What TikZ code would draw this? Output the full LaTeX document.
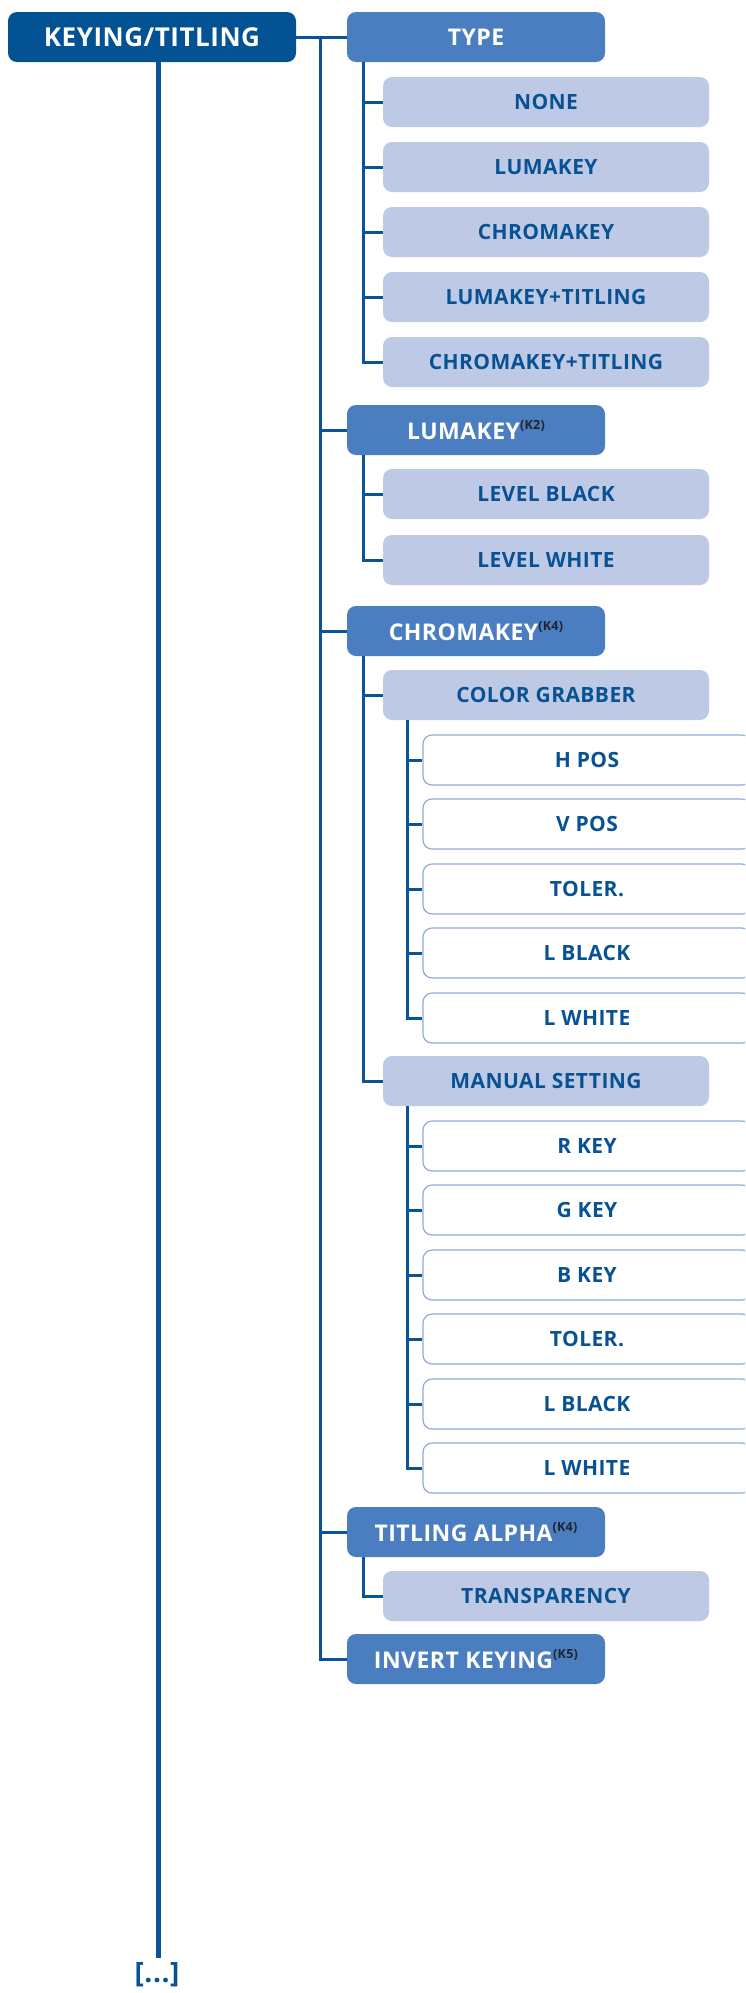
\documentclass[tikz,border=0pt]{standalone}
\usepackage{fontspec}
\setmainfont[LetterSpace=2]{Open Sans}
\usepackage{xcolor}
\usetikzlibrary{positioning}

\definecolor{rootblue}{RGB}{3,82,148}
\definecolor{menublue}{RGB}{74,126,193}
\definecolor{itemfill}{RGB}{190,201,230}
\definecolor{valueedge}{RGB}{143,170,220}
\definecolor{textblue}{RGB}{8,82,148}
\definecolor{linkblue}{RGB}{10,84,150}
\definecolor{refgray}{RGB}{35,35,45}

\newcommand{\kref}[1]{\raisebox{0.8ex}{\fontsize{6.3pt}{7pt}\selectfont\color{refgray}(#1)}}

\begin{document}
\begin{tikzpicture}[x=0.5pt, y=-0.5pt,
    every node/.style={rounded corners=4.5pt, inner sep=0pt, minimum height=25pt},
    rootbox/.style={fill=rootblue, text=white, minimum width=144pt, font=\fontsize{13}{15}\selectfont\bfseries},
    menubox/.style={fill=menublue, text=white, minimum width=129pt, font=\fontsize{11.5}{13}\selectfont\bfseries},
    itembox/.style={fill=itemfill, text=textblue, minimum width=163pt, font=\fontsize{10.5}{12}\selectfont\bfseries},
    valuebox/.style={fill=white, draw=valueedge, line width=0.6pt, text=textblue, minimum width=164pt, font=\fontsize{10.5}{12}\selectfont\bfseries},
    dots/.style={minimum height=0pt, text=textblue, font=\fontsize{14}{16}\selectfont\bfseries},
    link/.style={draw=linkblue, line width=1.5pt},
    trunk/.style={draw=linkblue, line width=2.5pt},
  ]
  \useasboundingbox (0,0) rectangle (745,1993);
  \clip (0,0) rectangle (745,1993);

  \node[rootbox] (root) at (152,37) {KEYING/TITLING};

  \node[menubox] (type)      at (476,37)   {TYPE};
  \node[itembox] (none)      at (546,102)  {NONE};
  \node[itembox] (luma)      at (546,167)  {LUMAKEY};
  \node[itembox] (chroma)    at (546,232)  {CHROMAKEY};
  \node[itembox] (lumatit)   at (546,297)  {LUMAKEY+TITLING};
  \node[itembox] (chromatit) at (546,362)  {CHROMAKEY+TITLING};

  \node[menubox] (lumakey)   at (476,430)  {LUMAKEY\kref{K2}};
  \node[itembox] (lvlblack)  at (546,494)  {LEVEL BLACK};
  \node[itembox] (lvlwhite)  at (546,560)  {LEVEL WHITE};

  \node[menubox]  (chromakey) at (476,631)  {CHROMAKEY\kref{K4}};
  \node[itembox]  (grabber)   at (546,695)  {COLOR GRABBER};
  \node[valuebox] (hpos)      at (587,760)  {H POS};
  \node[valuebox] (vpos)      at (587,824)  {V POS};
  \node[valuebox] (gtoler)    at (587,889)  {TOLER.};
  \node[valuebox] (gblack)    at (587,953)  {L BLACK};
  \node[valuebox] (gwhite)    at (587,1018) {L WHITE};
  \node[itembox]  (manual)    at (546,1081) {MANUAL SETTING};
  \node[valuebox] (rkey)      at (587,1146) {R KEY};
  \node[valuebox] (gkey)      at (587,1210) {G KEY};
  \node[valuebox] (bkey)      at (587,1275) {B KEY};
  \node[valuebox] (mtoler)    at (587,1339) {TOLER.};
  \node[valuebox] (mblack)    at (587,1404) {L BLACK};
  \node[valuebox] (mwhite)    at (587,1468) {L WHITE};

  \node[menubox] (alpha)     at (476,1532) {TITLING ALPHA\kref{K4}};
  \node[itembox] (transp)    at (546,1596) {TRANSPARENCY};
  \node[menubox] (invert)    at (476,1659) {INVERT KEYING\kref{K5}};

  \coordinate (fork) at (320,37);
  \coordinate (more) at (158,1958);
  \node[dots, anchor=north] (dots) at (157,1962) {[...]};

  \draw[trunk] (root.south -| more) -- (more);
  \draw[link] (root.east) -- (type.west);
  \foreach \n in {type,lumakey,chromakey,alpha,invert}
    \draw[link] (fork) |- (\n.west);
  \foreach \n in {none,luma,chroma,lumatit,chromatit}
    \draw[link] ([xshift=8.5pt]type.south west) |- (\n.west);
  \foreach \n in {lvlblack,lvlwhite}
    \draw[link] ([xshift=8.5pt]lumakey.south west) |- (\n.west);
  \foreach \n in {grabber,manual}
    \draw[link] ([xshift=8.5pt]chromakey.south west) |- (\n.west);
  \foreach \n in {hpos,vpos,gtoler,gblack,gwhite}
    \draw[link] ([xshift=12.5pt]grabber.south west) |- (\n.west);
  \foreach \n in {rkey,gkey,bkey,mtoler,mblack,mwhite}
    \draw[link] ([xshift=12.5pt]manual.south west) |- (\n.west);
  \draw[link] ([xshift=8.5pt]alpha.south west) |- (transp.west);

\end{tikzpicture}
\end{document}
